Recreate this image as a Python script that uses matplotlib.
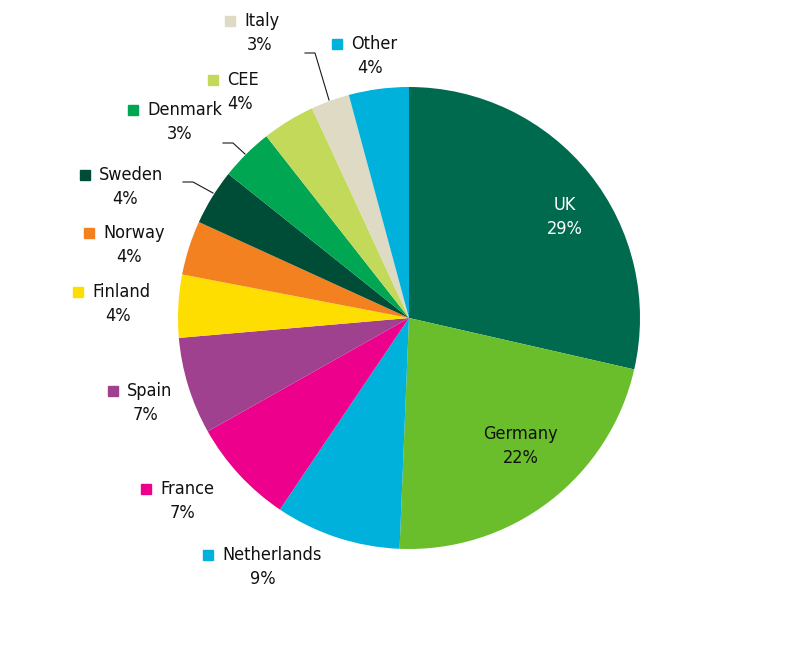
import matplotlib
matplotlib.use("Agg")
import matplotlib.pyplot as plt

plt.rcParams['font.family'] = ['DejaVu Sans']
plt.rcParams['font.stretch'] = 'condensed'

# slice data, clockwise from 12 o'clock
regions = ["UK", "Germany", "Netherlands", "France", "Spain", "Finland",
           "Norway", "Sweden", "Denmark", "CEE", "Italy", "Other"]
shares = [28.6, 22.1, 8.8, 7.4, 6.8, 4.4, 3.8, 3.9, 3.7, 3.7, 2.7, 4.2]
pct_labels = ["29%", "22%", "9%", "7%", "7%", "4%", "4%", "4%", "3%", "4%", "3%", "4%"]
colors = ["#006a4e", "#6abd2b", "#00b1dc", "#ec008c", "#a0418f", "#fedd00",
          "#f38120", "#004d37", "#00a651", "#c2d95a", "#dedac4", "#00b1dc"]

# label layout (pixel positions in the 792x666 picture): text centre, square x
label_px = {
    "UK": (565, 205, None), "Germany": (521, 434, None),
    "Netherlands": (263, 555, 208), "France": (183, 489, 146),
    "Spain": (146, 391, 113), "Finland": (118, 292, 78),
    "Norway": (129, 233, 89), "Sweden": (125, 175, 85),
    "Denmark": (180, 110, 133), "CEE": (240, 80, 213),
    "Italy": (260, 21, 230), "Other": (370, 44, 337),
}
# leader lines (pixel) for the small slices
leaders = {
    "Italy": [(329, 100), (315, 53), (305, 53)],
    "Denmark": [(245, 154), (233, 143), (223, 143)],
    "Sweden": [(213, 193), (193, 182), (183, 182)],
}

W, H = 792, 666
cx, cy, R = 409, 318, 231


def to_data(px, py):
    return (px - cx) / R, (cy - py) / R


fig = plt.figure(figsize=(W / 100, H / 100), dpi=100)
ax = fig.add_axes([0, 0, 1, 1])
ax.pie(shares, colors=colors, startangle=90, counterclock=False, radius=1,
       wedgeprops=dict(linewidth=0))
ax.set_xlim(-cx / R, (W - cx) / R)
ax.set_ylim((cy - H) / R, cy / R)
ax.set_aspect('equal')
ax.axis('off')

fs = 13
for name, pct, col in zip(regions, pct_labels, colors):
    tx, ty, sx = label_px[name]
    x2, y2 = to_data(tx, ty + 24)
    tc = "white" if name == "UK" else "#111111"
    if sx is None:
        x, y = to_data(tx, ty)
        ax.text(x, y, name, ha='center', va='center', fontsize=fs, color=tc)
    else:
        x, y = to_data(sx + 14, ty)
        ax.text(x, y, name, ha='left', va='center', fontsize=fs, color=tc)
        mx, my = to_data(sx, ty)
        ax.plot([mx], [my], marker='s', markersize=7.8, color=col, linestyle='none')
    ax.text(x2, y2, pct, ha='center', va='center', fontsize=fs, color=tc)

for name, pts in leaders.items():
    xs, ys = zip(*[to_data(px, py) for px, py in pts])
    ax.plot(xs, ys, color="#1a1a1a", linewidth=0.8)

fig.savefig("out.png", dpi=100)
